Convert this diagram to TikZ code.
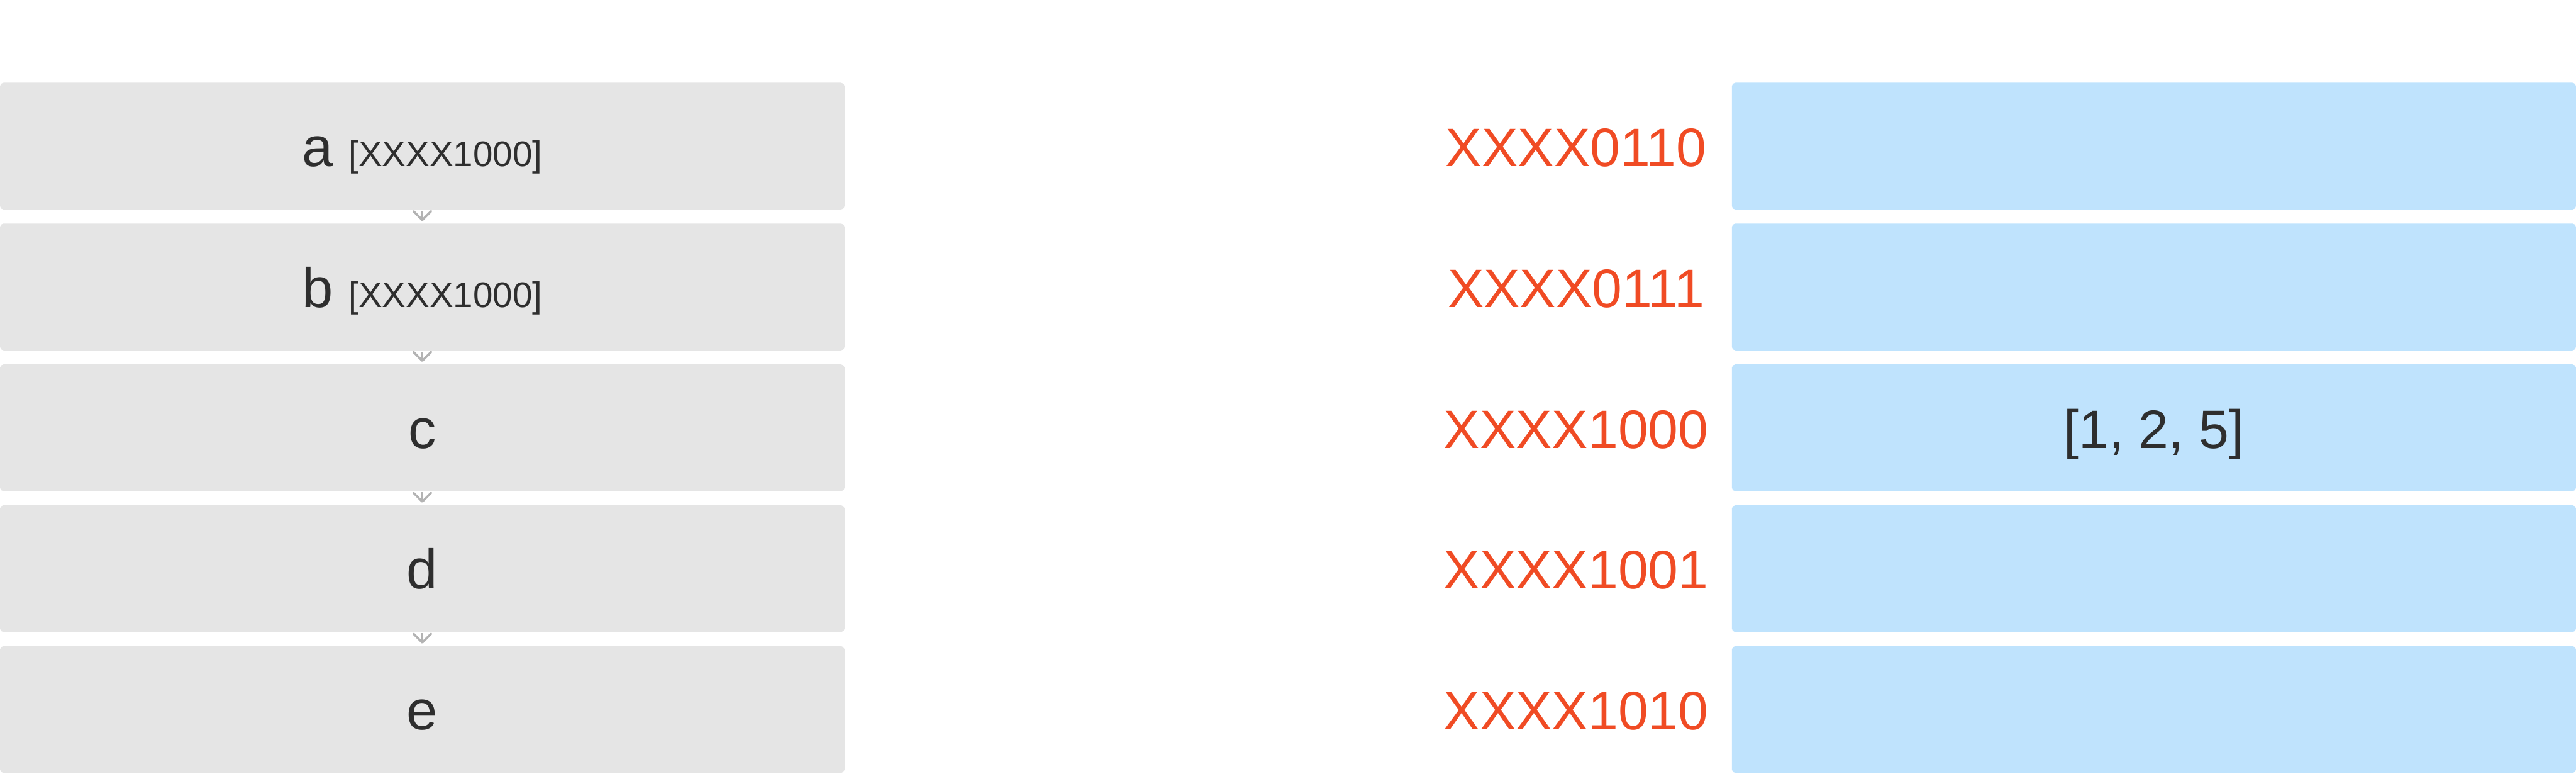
\documentclass[tikz,border=0pt]{standalone}
\usepackage{fontspec}
\setmainfont{Liberation Sans}
\usetikzlibrary{arrows.meta, positioning}
\definecolor{cellgray}{HTML}{E5E5E5}
\definecolor{slotblue}{HTML}{BFE3FD}
\definecolor{hashred}{HTML}{F04B24}
\definecolor{inkdark}{HTML}{2E2E2E}
\definecolor{linkgray}{HTML}{B3B3B3}
\newcommand{\keytag}[1]{{\fontsize{23}{28}\selectfont #1}}

\begin{document}
\begin{tikzpicture}[
  cell/.style={fill=cellgray, rounded corners=0.08cm, minimum width=19.2cm, minimum height=2.88cm,
    inner sep=0pt, text=inkdark, font=\fontsize{36}{43}\selectfont, text height=0.92cm, text depth=0cm},
  slot/.style={fill=slotblue, rounded corners=0.08cm, minimum width=19.19cm, minimum height=2.88cm,
    inner sep=0pt, text=inkdark, font=\fontsize{35}{42}\selectfont, text height=0.92cm, text depth=0cm},
  hashlbl/.style={inner sep=0pt, text=hashred, font=\fontsize{35}{42}\selectfont, text height=0.92cm, text depth=0cm},
  link/.style={-{Straight Barb[length=0.2cm, width=0.4cm, round]}, line width=0.05cm, linkgray,
    shorten <=0.02cm, shorten >=0.05cm}
]
\useasboundingbox (0,0) rectangle (58.56,-17.58);

% linked list on the left, hash table on the right
\foreach \i/\y/\txt/\hash/\val in {1/-3.32/{a \keytag{[XXXX1000]}}/XXXX0110/{},
                                   2/-6.52/{b \keytag{[XXXX1000]}}/XXXX0111/{},
                                   3/-9.72/c/XXXX1000/{[1, 2, 5]},
                                   4/-12.92/d/XXXX1001/{},
                                   5/-16.12/e/XXXX1010/{}}
{
  \node[cell] (n\i) at (9.6,\y) {\txt};
  \node[hashlbl] (h\i) at (35.83,\y) {\hash};
  \node[slot] (s\i) at (48.965,\y) {\val};
}

\foreach \i [count=\j from 2] in {1,...,4}
  \draw[link] (n\i.south) -- (n\j.north);
\end{tikzpicture}
\end{document}
